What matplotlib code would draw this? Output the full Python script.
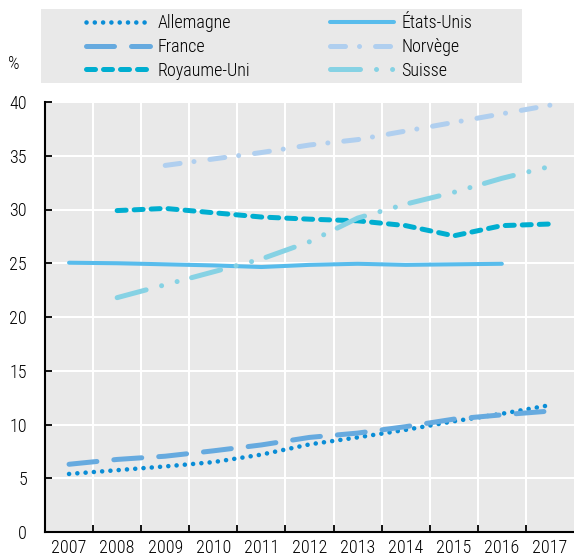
import matplotlib
matplotlib.use('Agg')
import matplotlib.pyplot as plt
import numpy as np
from matplotlib.patches import Rectangle

nan = np.nan
years = list(range(2007, 2018))
allemagne = [5.4, 5.75, 6.1, 6.5, 7.2, 8.15, 8.8, 9.5, 10.3, 11.0, 11.8]
france = [6.3, 6.75, 7.05, 7.55, 8.1, 8.8, 9.2, 9.8, 10.5, 10.9, 11.25]
etats_unis = [25.05, 25.0, 24.9, 24.8, 24.65, 24.85, 24.95, 24.85, 24.9, 24.95, nan]
royaume_uni = [nan, 29.9, 30.1, 29.7, 29.3, 29.1, 28.95, 28.5, 27.55, 28.5, 28.65]
norvege = [nan, nan, 34.1, 34.7, 35.3, 36.0, 36.5, 37.3, 38.1, 38.9, 39.7]
suisse = [nan, 21.8, 23.0, 24.2, 25.4, 27.0, 29.2, 30.5, 31.6, 32.9, 34.0]
y_ticks = [0, 5, 10, 15, 20, 25, 30, 35, 40]

plt.rcParams['font.family'] = ['Roboto Condensed', 'Liberation Sans', 'DejaVu Sans']
plt.rcParams['font.weight'] = 'light'
FS = 13

W, H = 574, 558
fig = plt.figure(figsize=(W / 100, H / 100), dpi=100)
ax = fig.add_axes([45 / W, (H - 532) / H, (574 - 45) / W, (532 - 102) / H])
ax.set_facecolor('#e9e9e9')

series = [
    ('Allemagne', allemagne, dict(color='#0a8dd6', lw=3.3, dashes=(0.01, 1.8))),
    ('France', france, dict(color='#66aadf', lw=3.6, dashes=(5.6, 3.4))),
    ('Royaume-Uni', royaume_uni, dict(color='#00aed0', lw=3.6, dashes=(1.8, 1.6))),
    ('États-Unis', etats_unis, dict(color='#58bcec', lw=2.9)),
    ('Norvège', norvege, dict(color='#b0cfef', lw=3.6, dashes=(3.0, 2.8, 0.01, 3.2))),
    ('Suisse', suisse, dict(color='#86d2e4', lw=3.6, dashes=(6.0, 3.2, 0.01, 3.2, 0.01, 3.0))),
]
handles = []
for name, vals, st in series:
    ln, = ax.plot(years, vals, label=name, solid_capstyle='round',
                  dash_capstyle='round', **st)
    handles.append(ln)

ax.set_xlim(years[0] - 0.5, years[-1] + 0.5)
ax.set_ylim(0, 40)
ax.set_yticks(y_ticks)
ax.set_xticks(years)
ax.set_xticklabels([str(y) for y in years])
ax.set_xticks([y + 0.5 for y in years[:-1]], minor=True)
ax.grid(True, axis='y', which='major', color='white', lw=1.5)
ax.grid(True, axis='x', which='minor', color='white', lw=1.5)
ax.grid(False, axis='x', which='major')
ax.set_axisbelow(True)
ax.tick_params(axis='x', which='major', length=0, pad=5, labelsize=FS)
ax.tick_params(axis='x', which='minor', direction='in', length=5, width=1.3)
ax.tick_params(axis='y', which='major', direction='in', length=5, width=1.3, pad=13, labelsize=FS)
for s in ['top', 'right']:
    ax.spines[s].set_visible(False)
for s in ['left', 'bottom']:
    ax.spines[s].set_linewidth(1.5)
    ax.spines[s].set_color('black')

fig.patches.append(Rectangle((41 / W, 1 - 83 / H), (522 - 41) / W, 74 / H,
                             transform=fig.transFigure, facecolor='#e9e9e9',
                             edgecolor='none', zorder=0))
leg_kw = dict(loc='center left', frameon=False, borderpad=0, borderaxespad=0,
              handlelength=3.55, handletextpad=0.4, labelspacing=0.31, fontsize=FS)
fig.legend(handles=handles[:3], bbox_to_anchor=(86 / W, 1 - 47 / H), **leg_kw)
fig.legend(handles=handles[3:], bbox_to_anchor=(330 / W, 1 - 47 / H), **leg_kw)

fig.text(14 / W, 1 - 64 / H, '%', fontsize=FS, ha='center', va='center')

fig.savefig('out.png', dpi=100)
